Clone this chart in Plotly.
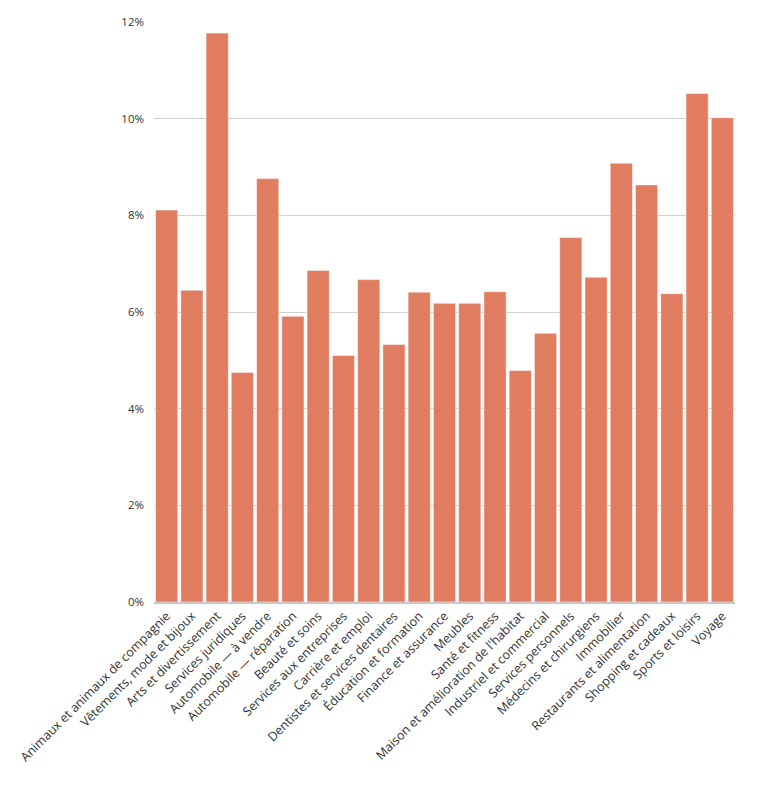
import plotly.graph_objects as go

categories = [
    "Animaux et animaux de compagnie",
    "Vêtements, mode et bijoux",
    "Arts et divertissement",
    "Services juridiques",
    "Automobile — à vendre",
    "Automobile — réparation",
    "Beauté et soins",
    "Services aux entreprises",
    "Carrière et emploi",
    "Dentistes et services dentaires",
    "Éducation et formation",
    "Finance et assurance",
    "Meubles",
    "Santé et fitness",
    "Maison et amélioration de l'habitat",
    "Industriel et commercial",
    "Services personnels",
    "Médecins et chirurgiens",
    "Immobilier",
    "Restaurants et alimentation",
    "Shopping et cadeaux",
    "Sports et loisirs",
    "Voyage",
]
values = [8.11, 6.45, 11.77, 4.75, 8.76, 5.91, 6.86, 5.10, 6.67, 5.33, 6.41,
          6.18, 6.18, 6.42, 4.79, 5.56, 7.54, 6.72, 9.08, 8.63, 6.38, 10.52, 10.02]
y_ticks = [0, 2, 4, 6, 8, 10, 12]
y_tick_labels = ["0%", "2%", "4%", "6%", "8%", "10%", "12%"]

fig = go.Figure(go.Bar(
    x=categories,
    y=values,
    marker=dict(color="#E07D60", line=dict(color="white", width=0.5)),
))

fig.update_layout(
    width=763,
    height=787,
    margin=dict(l=154, r=28, t=22, b=185),
    paper_bgcolor="white",
    plot_bgcolor="white",
    bargap=0.12,
    showlegend=False,
    font=dict(family="Open Sans, sans-serif", size=11, color="#333333"),
)
fig.update_xaxes(
    tickangle=-45,
    tickfont=dict(family="Open Sans, sans-serif", size=12.5, color="#333333"),
    showgrid=False,
    showline=True,
    linecolor="#c8c8c8",
    linewidth=1.5,
    ticks="",
)
fig.update_yaxes(
    range=[0, 12],
    tickvals=y_ticks,
    ticktext=y_tick_labels,
    showgrid=True,
    gridcolor="#d0d0d0",
    gridwidth=1,
    zeroline=False,
    ticks="",
    ticklen=0,
    ticklabelstandoff=9,
    tickfont=dict(family="Open Sans, sans-serif", size=11.5, color="#333333"),
)

fig.write_html("out.html")
